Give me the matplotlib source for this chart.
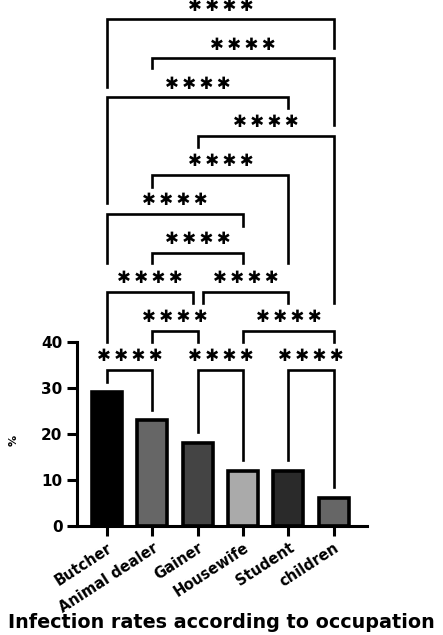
import numpy as np
import matplotlib
matplotlib.use('Agg')
import matplotlib.pyplot as plt

# Данные: доля инфицированных по профессиям
occupations = ['Butcher', 'Animal dealer', 'Gainer', 'Housewife', 'Student', 'children']
rates = [29, 23, 18, 12, 12, 6]
bar_colors = ['#000000', '#666666', '#444444', '#aaaaaa', '#2a2a2a', '#666666']

# Скобки значимости: (левый столбец, правый столбец, уровень, низ левой ноги, низ правой ноги)
brackets = [
    (0, 1, 0, 31.2, 25.2),
    (2, 3, 0, 20.4, 14.3),
    (4, 5, 0, 14.3, 8.4),
    (1, 2, 1, 40.0, 40.0),
    (3, 5, 1, 40.0, 40.0),
    (0, 1.89, 2, 40.0, 48.4),
    (2.12, 4, 2, 48.4, 48.4),
    (1, 3, 3, 57.1, 57.1),
    (0, 3, 4, 57.1, 65.2),
    (1, 4, 5, 73.6, 57.1),
    (2, 5, 6, 82.3, 48.4),
    (0, 4, 7, 70.1, 90.8),
    (1, 5, 8, 99.5, 87.1),
    (0, 5, 9, 95.4, 103.8),
]
stars = '\u2731\u2009\u2731\u2009\u2731\u2009\u2731'
base_level, level_step = 33.85, 8.47

fig = plt.figure(figsize=(4.43, 6.35), dpi=100)
ax = fig.add_axes([0.1738, 0.1721, 0.6545, 0.8279])

x = np.arange(len(occupations))
ax.bar(x, rates, width=0.66, color=bar_colors, edgecolor='black', linewidth=2.6)

for xl, xr, lev, yl, yr in brackets:
    y = base_level + level_step * lev
    ax.plot([xl, xl, xr, xr], [yl, y, y, yr], color='black', lw=1.9,
            solid_joinstyle='miter', clip_on=False)
    ax.text((xl + xr) / 2, y + 3.0, stars, ha='center', va='center',
            fontsize=12, fontweight='bold', family='DejaVu Sans', clip_on=False)

ax.set_xlim(-0.66, 5.73)
ax.set_ylim(0, 114.3)
ax.spines['left'].set_bounds(0, 40)
for s in ['top', 'right']:
    ax.spines[s].set_visible(False)
for s in ['left', 'bottom']:
    ax.spines[s].set_linewidth(2.2)

ax.set_yticks([0, 10, 20, 30, 40])
ax.tick_params(axis='both', width=2.2, length=7, labelsize=11)
for lbl in ax.get_yticklabels():
    lbl.set_fontweight('bold')
ax.set_xticks(x)
ax.set_xticklabels(occupations, rotation=33, ha='right', rotation_mode='anchor',
                   fontsize=10.5, fontweight='bold')

ax.text(-0.22, 0.163, '%', transform=ax.transAxes, rotation=90, ha='center',
        va='center', fontsize=8, fontweight='bold')
fig.text(0.5, 0.019, 'Infection rates according to occupation', ha='center',
         va='center', fontsize=13.8, fontweight='bold')

fig.savefig('out.png', dpi=100)
